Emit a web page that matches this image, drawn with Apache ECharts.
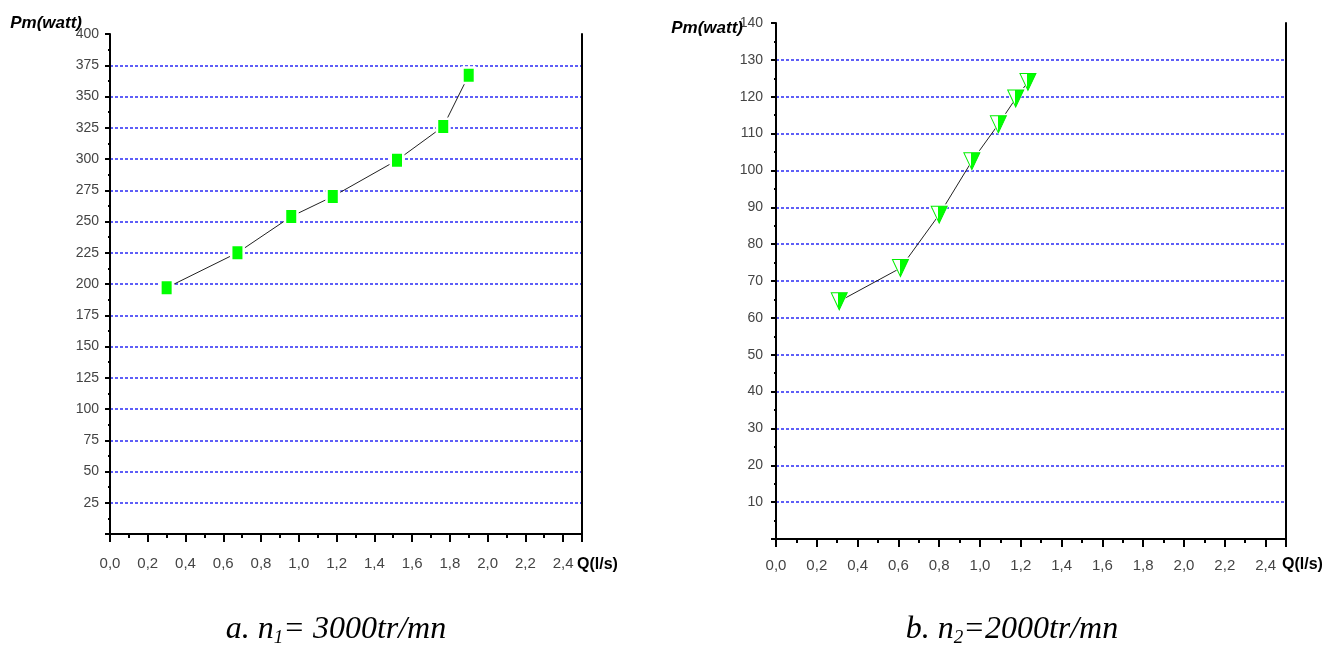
<!DOCTYPE html>
<html>
<head>
<meta charset="utf-8">
<script src="https://cdn.jsdelivr.net/npm/echarts@6/dist/echarts.min.js"></script>
<style>
html,body{margin:0;padding:0;background:#fff;}
#chart{width:1341px;height:646px;}
</style>
</head>
<body>
<div id="chart"></div>
<script>
// Chart a: n1 = 3000 tr/mn
const qA = [0.30, 0.675, 0.96, 1.18, 1.52, 1.765, 1.90];
const pA = [197, 225, 254, 270, 299, 326, 367];
// Chart b: n2 = 2000 tr/mn
const qB = [0.31, 0.61, 0.80, 0.96, 1.09, 1.175, 1.235];
const pB = [64.5, 73.5, 88, 102.5, 112.5, 119.5, 124];

const xLabel = 'Q(l/s)';
const yLabel = 'Pm(watt)';
const captionA = ['a. n', '1', '= 3000tr/mn'];
const captionB = ['b. n', '2', '=2000tr/mn'];

const tickFont = "'Liberation Sans Narrow','Liberation Sans',Arial,sans-serif";

function pairs(xs, ys) { return xs.map((x, i) => [x, ys[i]]); }

function xAxisCfg(gi, margin) {
  return {
    gridIndex: gi, type: 'value', min: 0, max: 2.5, interval: 0.2,
    axisLine: { show: true, onZero: false, lineStyle: { color: '#000', width: 2 } },
    axisTick: { show: true, length: 8, lineStyle: { color: '#000', width: 2 } },
    minorTick: { show: true, splitNumber: 2, length: 4, lineStyle: { color: '#000', width: 2 } },
    axisLabel: { show: true, showMaxLabel: false, margin: margin, color: '#444',
      fontFamily: tickFont, fontSize: 15,
      formatter: v => v.toFixed(1).replace('.', ',') },
    splitLine: { show: false }
  };
}
function yAxisCfg(gi, max, interval, margin) {
  return {
    gridIndex: gi, type: 'value', min: 0, max: max, interval: interval, position: 'left',
    axisLine: { show: true, onZero: false, lineStyle: { color: '#000', width: 2 } },
    axisTick: { show: true, length: 5, lineStyle: { color: '#000', width: 2 } },
    minorTick: { show: true, splitNumber: 2, length: 2, lineStyle: { color: '#000', width: 2 } },
    axisLabel: { show: true, showMinLabel: false, margin: margin, color: '#444',
      fontFamily: tickFont, fontSize: 14 },
    splitLine: { show: true, showMinLine: false, showMaxLine: false,
      lineStyle: { color: '#2a2af5', width: 1.6, type: [3, 2] } }
  };
}
function borderAxis(gi) {
  return {
    gridIndex: gi, type: 'value', min: 0, max: 1, position: 'right',
    axisLine: { show: true, onZero: false, lineStyle: { color: '#000', width: 2 } },
    axisTick: { show: false }, axisLabel: { show: false }, splitLine: { show: false }
  };
}

const triPath = 'path://M0,0 L16,0 L8,17 Z';
const triFill = new echarts.graphic.LinearGradient(0, 0, 1, 0, [
  { offset: 0, color: '#ffffff' }, { offset: 0.45, color: '#ffffff' },
  { offset: 0.45, color: '#00ff00' }, { offset: 1, color: '#00ff00' }
]);

const serif = "'Liberation Serif','Times New Roman',serif";
const captionRich = {
  n: { fontFamily: serif, fontStyle: 'italic', fontSize: 32, color: '#000' },
  s: { fontFamily: serif, fontStyle: 'italic', fontSize: 19, color: '#000', verticalAlign: 'bottom', lineHeight: 34 }
};

const option = {
  backgroundColor: '#fff',
  animation: false,
  grid: [
    { left: 110, right: 759, top: 34, bottom: 112, containLabel: false },
    { left: 776, right: 55, top: 23, bottom: 107, containLabel: false }
  ],
  xAxis: [xAxisCfg(0, 22), xAxisCfg(1, 19)],
  yAxis: [yAxisCfg(0, 400, 25, 11), borderAxis(0), yAxisCfg(1, 140, 10, 13), borderAxis(1)],
  series: [
    { type: 'line', xAxisIndex: 0, yAxisIndex: 0, data: pairs(qA, pA), showSymbol: false,
      lineStyle: { color: '#222', width: 1 }, z: 2, silent: true },
    { type: 'scatter', xAxisIndex: 0, yAxisIndex: 0, data: pairs(qA, pA), symbol: 'rect',
      symbolSize: [15, 18], itemStyle: { color: '#fff', opacity: 1 }, z: 3, silent: true },
    { type: 'scatter', xAxisIndex: 0, yAxisIndex: 0, data: pairs(qA, pA), symbol: 'rect',
      symbolSize: [10, 13], itemStyle: { color: '#00ff00', opacity: 1 }, z: 4, silent: true },

    { type: 'line', xAxisIndex: 1, yAxisIndex: 2, data: pairs(qB, pB), showSymbol: false,
      lineStyle: { color: '#222', width: 1 }, z: 2, silent: true },
    { type: 'scatter', xAxisIndex: 1, yAxisIndex: 2, data: pairs(qB, pB), symbol: triPath,
      symbolSize: [20, 21], itemStyle: { color: '#fff', opacity: 1 }, z: 3, silent: true },
    { type: 'scatter', xAxisIndex: 1, yAxisIndex: 2, data: pairs(qB, pB), symbol: triPath,
      symbolSize: [16, 17], itemStyle: { color: triFill, borderColor: '#00ee00', borderWidth: 1, opacity: 1 }, z: 4, silent: true }
  ],
  graphic: [
    { type: 'text', x: 82, y: 23, z: 10, style: { text: yLabel, font: "italic bold 17px 'Liberation Sans', Arial, sans-serif", fill: '#000', align: 'right', verticalAlign: 'middle' } },
    { type: 'text', x: 743, y: 28, z: 10, style: { text: yLabel, font: "italic bold 17px 'Liberation Sans', Arial, sans-serif", fill: '#000', align: 'right', verticalAlign: 'middle' } },
    { type: 'text', x: 577, y: 565, z: 10, style: { text: xLabel, font: "bold 16px 'Liberation Sans', Arial, sans-serif", fill: '#000', align: 'left', verticalAlign: 'middle' } },
    { type: 'text', x: 1282, y: 565, z: 10, style: { text: xLabel, font: "bold 16px 'Liberation Sans', Arial, sans-serif", fill: '#000', align: 'left', verticalAlign: 'middle' } },
    { type: 'text', x: 336, y: 630, z: 10, style: { text: '{n|' + captionA[0] + '}{s|' + captionA[1] + '}{n|' + captionA[2] + '}', rich: captionRich, align: 'center', verticalAlign: 'middle' } },
    { type: 'text', x: 1012, y: 630, z: 10, style: { text: '{n|' + captionB[0] + '}{s|' + captionB[1] + '}{n|' + captionB[2] + '}', rich: captionRich, align: 'center', verticalAlign: 'middle' } }
  ]
};

const chart = echarts.init(document.getElementById('chart'), null, { renderer: 'canvas' });
chart.setOption(option);
</script>
</body>
</html>
